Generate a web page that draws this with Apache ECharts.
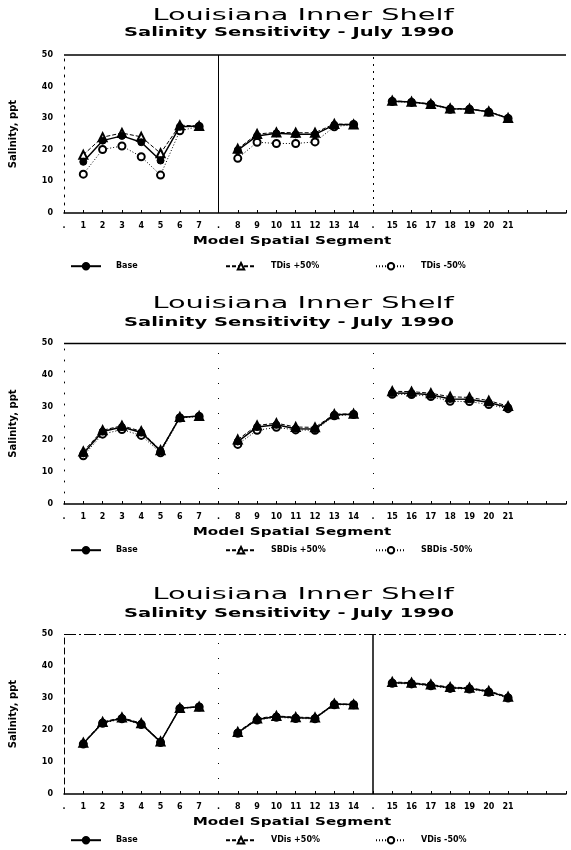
<!DOCTYPE html>
<html>
<head>
<meta charset="utf-8">
<script src="https://cdn.jsdelivr.net/npm/echarts@6/dist/echarts.min.js"></script>
<style>
html, body { margin: 0; padding: 0; background: #fff; }
#main { width: 571px; height: 850px; }
</style>
</head>
<body>
<div id="main"></div>
<script>
// tick labels along the x axis ('.' = gap between the three reaches)
var segLabels = ['.', '1', '2', '3', '4', '5', '6', '7', '.', '8', '9', '10', '11', '12', '13', '14',
    '.', '15', '16', '17', '18', '19', '20', '21', '', '', ''];

// salinity (ppt) for segments 1..21
var tdisBase = [16.2, 22.9, 24.4, 22.4, 16.6, 27.3, 27.5, 19.9, 24.4, 25.2, 24.9, 24.9, 27.9, 28.0, 35.4, 35.1, 34.4, 33.0, 32.9, 32.0, 30.0];
var tdisHi = [18.4, 24.0, 25.3, 24.1, 18.9, 27.8, 27.5, 20.3, 25.0, 25.5, 25.4, 25.4, 28.2, 28.0, 35.5, 35.2, 34.5, 33.1, 33.0, 32.1, 30.1];
var tdisLo = [12.3, 20.1, 21.2, 17.8, 12.0, 26.0, 27.4, 17.3, 22.4, 22.0, 22.0, 22.5, 27.3, 28.0, 35.3, 35.0, 34.3, 32.8, 32.8, 31.9, 29.9];

var sbBase = [15.7, 22.5, 23.9, 22.2, 16.5, 26.9, 27.3, 19.4, 23.9, 24.6, 23.4, 23.3, 27.7, 27.9, 34.5, 34.4, 33.9, 32.6, 32.5, 31.5, 30.0];
var sbHi = [16.3, 22.9, 24.3, 22.6, 16.7, 27.0, 27.3, 20.0, 24.4, 25.1, 23.9, 23.8, 27.9, 28.0, 35.0, 34.9, 34.4, 33.3, 33.1, 32.1, 30.4];
var sbLo = [15.0, 21.7, 23.1, 21.3, 15.9, 26.7, 27.2, 18.5, 22.9, 23.8, 23.0, 22.9, 27.4, 27.8, 34.1, 34.0, 33.4, 31.9, 31.8, 30.9, 29.6];

var vdBase = [15.8, 22.3, 23.7, 21.9, 16.3, 26.8, 27.3, 19.2, 23.3, 24.2, 23.8, 23.7, 28.1, 28.0, 34.8, 34.6, 34.0, 33.2, 33.0, 32.0, 30.2];
var vdHi = [16.0, 22.5, 23.9, 22.1, 16.4, 26.9, 27.3, 19.4, 23.6, 24.4, 24.0, 23.9, 28.2, 28.0, 35.0, 34.8, 34.2, 33.4, 33.2, 32.2, 30.4];
var vdLo = [15.6, 22.1, 23.5, 21.7, 16.1, 26.7, 27.2, 19.0, 23.1, 24.0, 23.6, 23.5, 27.9, 27.9, 34.6, 34.4, 33.8, 33.0, 32.8, 31.8, 30.0];

var titleText = 'Louisiana Inner Shelf';
var subText = 'Salinity Sensitivity - July 1990';
var xName = 'Model Spatial Segment';
var yName = 'Salinity, ppt';

// put segment values into the axis slots, leaving gaps at the '.' slots
function toSlots(vals) {
    var out = [null];
    for (var i = 0; i < vals.length; i++) {
        out.push(vals[i]);
        if (i == 6 || i == 13) out.push(null);
    }
    return out;
}

var panels = [
    { top: 55, bottom: 213, t1: 16, t2: 33, leg: 263, names: ['Base', 'TDis +50%', 'TDis -50%'], data: [tdisBase, tdisHi, tdisLo],
      sep1: { type: 'solid', width: 1 }, sep2: { type: [2, 5], width: 1 }, topLine: { type: 'solid', width: 1.5 }, yLine: [2, 6] },
    { top: 343, bottom: 504, t1: 304, t2: 323, leg: 547, names: ['Base', 'SBDis +50%', 'SBDis -50%'], data: [sbBase, sbHi, sbLo],
      sep1: { type: [1, 14], width: 1 }, sep2: { type: [1, 14], width: 1 }, topLine: { type: 'solid', width: 1.3 }, yLine: [1, 10] },
    { top: 634, bottom: 794, t1: 595, t2: 614, leg: 837, names: ['Base', 'VDis +50%', 'VDis -50%'], data: [vdBase, vdHi, vdLo],
      sep1: { type: [1, 14], width: 1 }, sep2: { type: 'solid', width: 1.5 }, topLine: { type: [12, 3, 2, 3], width: 1.2 }, yLine: [6, 4] }
];

var font = '"DejaVu Sans", Arial, sans-serif';
var grids = [], xAxes = [], yAxes = [], series = [], legends = [], graphics = [];

panels.forEach(function (p, k) {
    grids.push({ left: 63, right: 5, top: p.top, height: p.bottom - p.top });
    xAxes.push({
        type: 'category', gridIndex: k, data: segLabels, boundaryGap: false,
        axisLine: { lineStyle: { color: '#000', width: 1.5 } },
        axisTick: { inside: true, length: 3, interval: 0, lineStyle: { color: '#000' } },
        axisLabel: { interval: 0, color: '#000', fontSize: 8, fontWeight: 'bold', fontFamily: font, margin: 9 },
        splitLine: { show: false }
    });
    yAxes.push({
        type: 'value', gridIndex: k, min: 0, max: 50, interval: 10,
        name: yName, nameLocation: 'middle', nameGap: 46,
        nameTextStyle: { color: '#000', fontSize: 10, fontWeight: 'bold', fontFamily: font },
        axisLine: { show: true, lineStyle: { color: '#000', type: p.yLine } },
        axisTick: { inside: true, length: 4, lineStyle: { color: '#000' } },
        axisLabel: { color: '#000', fontSize: 8, fontWeight: 'bold', fontFamily: font, margin: 11 },
        splitLine: { show: false }
    });

    var styles = [
        { symbol: 'circle', size: 7, line: { type: 'solid', width: 1.5 } },
        { symbol: 'emptyTriangle', size: 8, line: { type: [4, 2], width: 1 } },
        { symbol: 'emptyCircle', size: 7, line: { type: [1, 2], width: 1 } }
    ];
    styles.forEach(function (s, j) {
        var ser = {
            name: p.names[j], type: 'line', xAxisIndex: k, yAxisIndex: k,
            data: toSlots(p.data[j]), connectNulls: false,
            symbol: s.symbol, symbolSize: s.size, z: 3 - j,
            itemStyle: { color: '#000', borderColor: '#000', borderWidth: 1 },
            lineStyle: { color: '#000', type: s.line.type, width: s.line.width },
            animation: false
        };
        if (j == 0) {
            ser.markLine = {
                silent: true, symbol: 'none', label: { show: false }, animation: false,
                data: [
                    { xAxis: 8, lineStyle: { color: '#000', type: p.sep1.type, width: p.sep1.width } },
                    { xAxis: 16, lineStyle: { color: '#000', type: p.sep2.type, width: p.sep2.width } },
                    { yAxis: 50, lineStyle: { color: '#000', type: p.topLine.type, width: p.topLine.width } }
                ]
            };
        }
        series.push(ser);
    });

    [65, 220, 370].forEach(function (lx, j) {
        legends.push({
            data: [p.names[j]], left: lx, top: p.leg - 6, itemWidth: 30, itemHeight: 8, itemGap: 10,
            selectedMode: false,
            textStyle: { color: '#000', fontSize: 8, fontWeight: 'bold', fontFamily: font, padding: [0, 0, 0, 10] }
        });
    });

    graphics.push({
        type: 'text', x: 303, y: p.t1, scaleX: 1.8,
        style: { text: titleText, font: '16px ' + font, fill: '#000', textAlign: 'center', textVerticalAlign: 'middle' }
    });
    graphics.push({
        type: 'text', x: 289, y: p.t2, scaleX: 1.5,
        style: { text: subText, font: 'bold 13px ' + font, fill: '#000', textAlign: 'center', textVerticalAlign: 'middle' }
    });
    graphics.push({
        type: 'text', x: 292, y: p.bottom + 28, scaleX: 1.38,
        style: { text: xName, font: 'bold 11px ' + font, fill: '#000', textAlign: 'center', textVerticalAlign: 'middle' }
    });
});

var myChart = echarts.init(document.getElementById('main'));
var option = {
    backgroundColor: '#fff',
    animation: false,
    grid: grids,
    xAxis: xAxes,
    yAxis: yAxes,
    legend: legends,
    graphic: graphics,
    series: series
};
myChart.setOption(option);
</script>
</body>
</html>
